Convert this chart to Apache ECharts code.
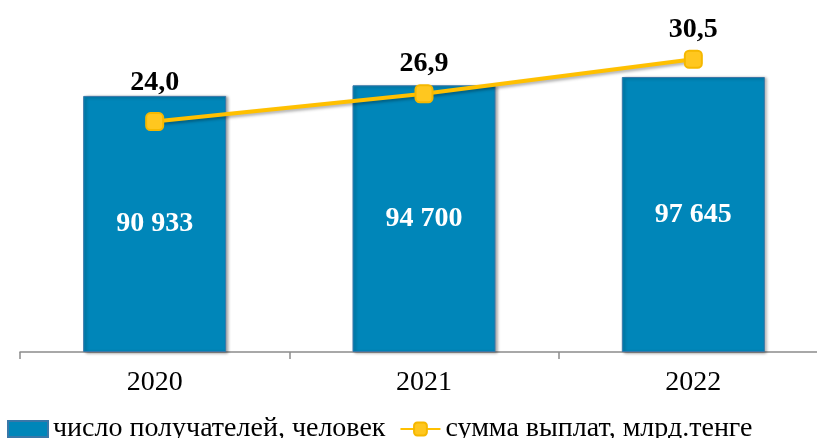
<!DOCTYPE html>
<html lang="ru">
<head>
<meta charset="UTF-8">
<title>chart</title>
<script src="https://cdn.jsdelivr.net/npm/echarts@6/dist/echarts.min.js"></script>
<style>
body{margin:0;background:#fff}
#main{width:817px;height:438px}
</style>
</head>
<body>
<div id="main"></div>
<script type="text/javascript">
var years = ['2020', '2021', '2022'];
var recipients = [90933, 94700, 97645];
var payments = [24.0, 26.9, 30.5];
var barName = 'число получателей, человек';
var lineName = 'сумма выплат, млрд.тенге';

function fmtNum(v) {
    return String(v).replace(/\B(?=(\d{3})+(?!\d))/g, ' ');
}

var myChart = echarts.init(document.getElementById('main'));

var lineData = [];
for (var i = 0; i < payments.length; i++) {
    lineData.push({
        value: payments[i],
        label: {distance: i == 0 ? 15 : 6}
    });
}

myChart.setOption({
    backgroundColor: '#fff',
    animation: false,
    textStyle: {fontFamily: 'Liberation Serif'},
    legend: {
        left: 2,
        top: 410,
        itemWidth: 40,
        itemHeight: 16,
        itemGap: 14,
        textStyle: {fontSize: 28, color: '#000', fontFamily: 'Liberation Serif'},
        data: [
            {name: barName, icon: 'rect'},
            {name: lineName}
        ]
    },
    grid: {
        left: 20,
        width: 808,
        top: 16,
        bottom: 86,
        outerBoundsMode: 'none',
        containLabel: false
    },
    xAxis: {
        type: 'category',
        data: years,
        axisLine: {lineStyle: {color: '#8c8c8c', width: 1.5}},
        axisTick: {show: true, length: 7, lineStyle: {color: '#8c8c8c', width: 1.5}},
        axisLabel: {fontSize: 28, color: '#000', margin: 17, fontFamily: 'Liberation Serif'}
    },
    yAxis: [
        {
            type: 'value',
            min: 0,
            max: 119300,
            show: false,
            splitLine: {show: false}
        },
        {
            type: 'value',
            min: 0,
            max: 35,
            show: false,
            splitLine: {show: false}
        }
    ],
    series: [
        {
            name: barName,
            type: 'bar',
            data: recipients,
            barWidth: 143,
            itemStyle: {
                color: '#0086B9',
                borderColor: '#3a77a8',
                borderWidth: 1,
                shadowColor: 'rgba(0,0,0,0.35)',
                shadowBlur: 3,
                shadowOffsetX: 2,
                shadowOffsetY: 1
            },
            label: {
                show: true,
                position: 'inside',
                color: '#fff',
                fontSize: 28,
                fontWeight: 'bold',
                fontFamily: 'Liberation Serif',
                formatter: function (p) { return fmtNum(p.value); }
            }
        },
        {
            name: lineName,
            type: 'line',
            yAxisIndex: 1,
            data: lineData,
            symbol: 'roundRect',
            symbolSize: 17,
            lineStyle: {
                color: '#FFC000',
                width: 4,
                shadowColor: 'rgba(0,0,0,0.3)',
                shadowBlur: 3,
                shadowOffsetX: 2,
                shadowOffsetY: 2
            },
            itemStyle: {
                color: '#FFC71F',
                borderColor: '#F5B800',
                borderWidth: 2
            },
            label: {
                show: true,
                position: 'top',
                color: '#000',
                fontSize: 28,
                fontWeight: 'bold',
                fontFamily: 'Liberation Serif',
                formatter: function (p) { return p.value.toFixed(1).replace('.', ','); }
            }
        }
    ]
});
</script>
</body>
</html>
